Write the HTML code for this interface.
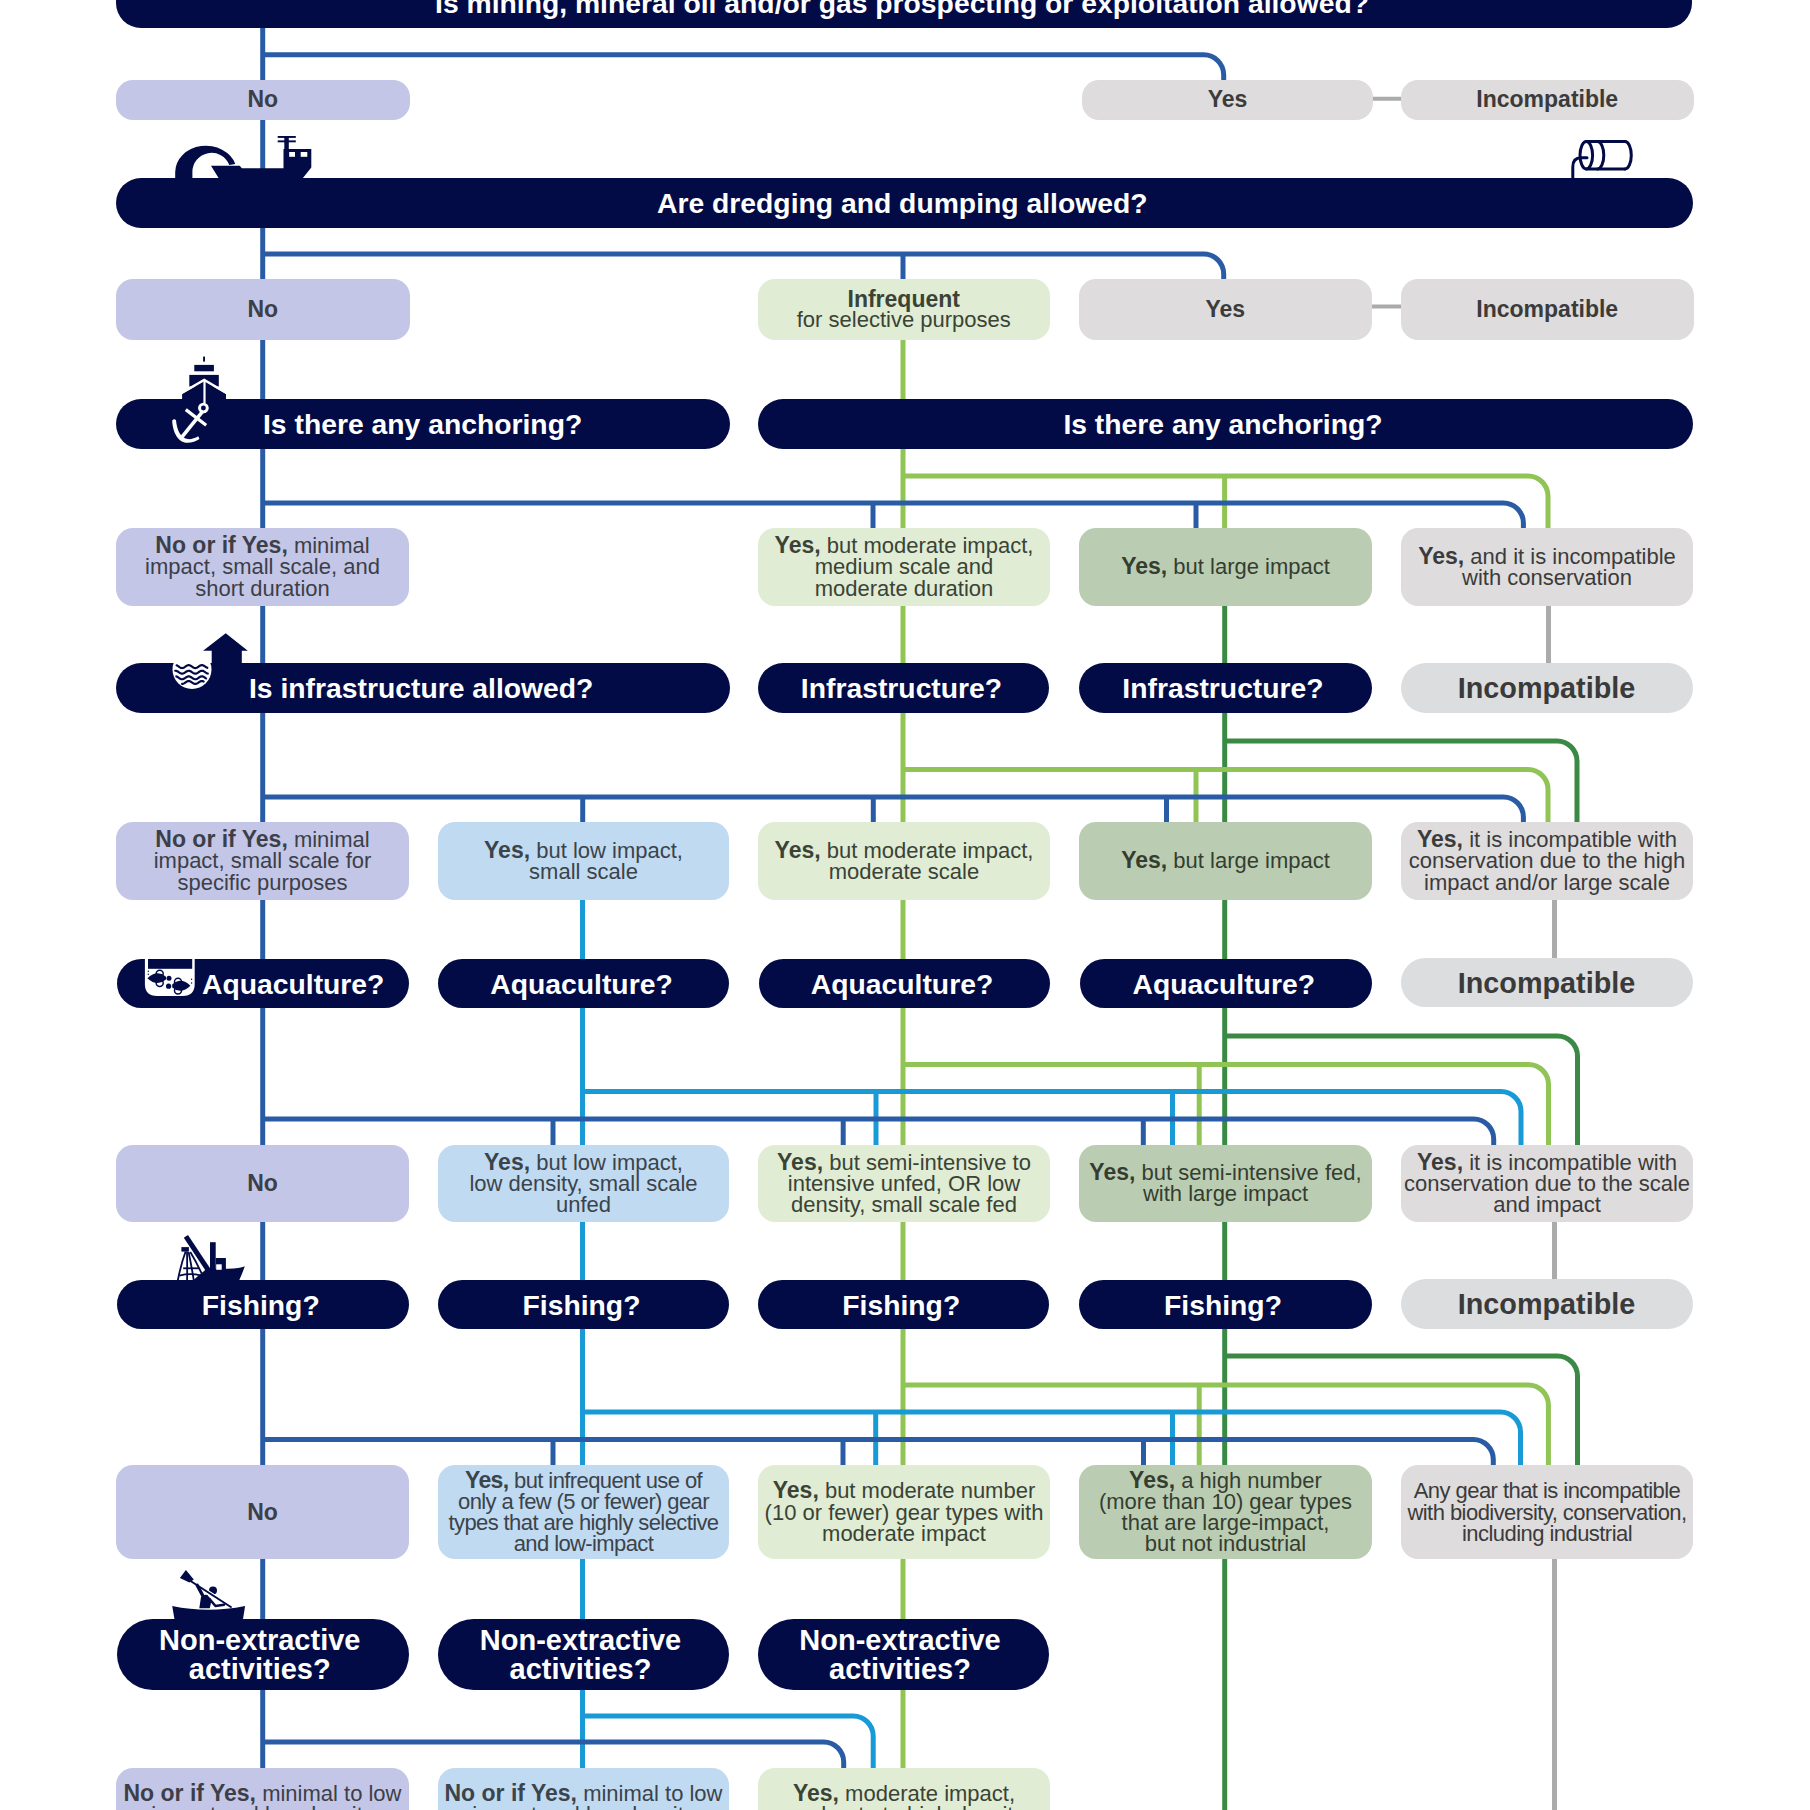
<!DOCTYPE html>
<html><head><meta charset="utf-8"><title>MPA decision tree</title>
<style>
html,body{margin:0;padding:0;background:#fff;}
body{width:1810px;height:1810px;position:relative;overflow:hidden;font-family:"Liberation Sans",sans-serif;}
.lines{position:absolute;left:0;top:0;z-index:0;}
.bx,.bar{position:absolute;box-sizing:border-box;display:flex;align-items:center;justify-content:center;text-align:center;z-index:1;}
.bx{border-radius:17px;font-size:22px;line-height:21.2px;}
.bx b{font-size:23px;}
.bar{border-radius:25px;font-size:28.3px;font-weight:bold;line-height:32px;padding-top:0.5px;padding-right:4px;}
.bx.top{align-items:flex-start;padding-top:15.5px;}
.icons{position:absolute;left:0;top:0;z-index:2;}
</style></head>
<body>
<svg class="lines" width="1810" height="1810" viewBox="0 0 1810 1810" fill="none">
<path d="M1548.5,600 V668" stroke="#ababab" stroke-width="5"/>
<path d="M1554.5,895 V963" stroke="#ababab" stroke-width="5"/>
<path d="M1554.5,1217 V1284" stroke="#ababab" stroke-width="5"/>
<path d="M1554.5,1555 V1815" stroke="#ababab" stroke-width="5"/>
<path d="M1370,98.8 H1404" stroke="#ababab" stroke-width="4"/>
<path d="M1368,306.5 H1404" stroke="#ababab" stroke-width="4"/>
<path d="M1224.7,600 V1815" stroke="#3a8a45" stroke-width="5"/>
<path d="M1224.7,741 H1557 A20,20 0 0 1 1577,761 V826" stroke="#3a8a45" stroke-width="5"/>
<path d="M1224.7,1036 H1557.5 A20,20 0 0 1 1577.5,1056 V1148" stroke="#3a8a45" stroke-width="5"/>
<path d="M1224.7,1356 H1557.5 A20,20 0 0 1 1577.5,1376 V1469" stroke="#3a8a45" stroke-width="5"/>
<path d="M903,335 V1815" stroke="#90c454" stroke-width="5"/>
<path d="M903,476 H1528 A20,20 0 0 1 1548,496 V532" stroke="#90c454" stroke-width="5"/>
<path d="M1224.6,476 V532" stroke="#90c454" stroke-width="5"/>
<path d="M903,769.5 H1528 A20,20 0 0 1 1548,789.5 V826" stroke="#90c454" stroke-width="5"/>
<path d="M1196,769.5 V826" stroke="#90c454" stroke-width="5"/>
<path d="M903,1064.5 H1528.5 A20,20 0 0 1 1548.5,1084.5 V1148" stroke="#90c454" stroke-width="5"/>
<path d="M1199.2,1064.5 V1148" stroke="#90c454" stroke-width="5"/>
<path d="M903,1385 H1528.4 A20,20 0 0 1 1548.4,1405 V1469" stroke="#90c454" stroke-width="5"/>
<path d="M1199.2,1385 V1469" stroke="#90c454" stroke-width="5"/>
<path d="M582.5,895 V1772" stroke="#189ad7" stroke-width="5"/>
<path d="M582.5,1091.5 H1501 A20,20 0 0 1 1521,1111.5 V1148" stroke="#189ad7" stroke-width="5"/>
<path d="M876,1091.5 V1148" stroke="#189ad7" stroke-width="5"/>
<path d="M1172.5,1091.5 V1148" stroke="#189ad7" stroke-width="5"/>
<path d="M582.5,1412 H1500.5 A20,20 0 0 1 1520.5,1432 V1469" stroke="#189ad7" stroke-width="5"/>
<path d="M875.7,1412 V1469" stroke="#189ad7" stroke-width="5"/>
<path d="M1172.5,1412 V1469" stroke="#189ad7" stroke-width="5"/>
<path d="M582.5,1716 H853.2 A20,20 0 0 1 873.2,1736 V1772" stroke="#189ad7" stroke-width="5"/>
<path d="M262.7,20 V1772" stroke="#2a5ca6" stroke-width="5"/>
<path d="M262.7,54.8 H1203.7 A20,20 0 0 1 1223.7,74.8 V84" stroke="#2a5ca6" stroke-width="5"/>
<path d="M262.7,254 H1203.7 A20,20 0 0 1 1223.7,274 V283" stroke="#2a5ca6" stroke-width="5"/>
<path d="M903,254 V283" stroke="#2a5ca6" stroke-width="5"/>
<path d="M262.7,503 H1503.4 A20,20 0 0 1 1523.4,523 V532" stroke="#2a5ca6" stroke-width="5"/>
<path d="M873,503 V532" stroke="#2a5ca6" stroke-width="5"/>
<path d="M1196,503 V532" stroke="#2a5ca6" stroke-width="5"/>
<path d="M262.7,797 H1503.4 A20,20 0 0 1 1523.4,817 V826" stroke="#2a5ca6" stroke-width="5"/>
<path d="M582.7,797 V826" stroke="#2a5ca6" stroke-width="5"/>
<path d="M873.3,797 V826" stroke="#2a5ca6" stroke-width="5"/>
<path d="M1166.5,797 V826" stroke="#2a5ca6" stroke-width="5"/>
<path d="M262.7,1119 H1473.7 A20,20 0 0 1 1493.7,1139 V1148" stroke="#2a5ca6" stroke-width="5"/>
<path d="M553,1119 V1148" stroke="#2a5ca6" stroke-width="5"/>
<path d="M843.2,1119 V1148" stroke="#2a5ca6" stroke-width="5"/>
<path d="M1143.3,1119 V1148" stroke="#2a5ca6" stroke-width="5"/>
<path d="M262.7,1439.5 H1473.3 A20,20 0 0 1 1493.3,1459.5 V1469" stroke="#2a5ca6" stroke-width="5"/>
<path d="M553,1439.5 V1469" stroke="#2a5ca6" stroke-width="5"/>
<path d="M843,1439.5 V1469" stroke="#2a5ca6" stroke-width="5"/>
<path d="M1143.5,1439.5 V1469" stroke="#2a5ca6" stroke-width="5"/>
<path d="M262.7,1742 H823.7 A20,20 0 0 1 843.7,1762 V1772" stroke="#2a5ca6" stroke-width="5"/>
</svg>
<div class="bar" style="left:116px;top:-23px;width:1576px;height:51px;background:#020b45;color:#fff;"><div>Is mining, mineral oil and/or gas prospecting or exploitation allowed?</div></div>
<div class="bar" style="left:116px;top:178px;width:1576.5px;height:50px;background:#020b45;color:#fff;"><div>Are dredging and dumping allowed?</div></div>
<div class="bar" style="left:116px;top:399px;width:614px;height:50px;background:#020b45;color:#fff;justify-content:flex-start;padding-left:147px;"><div><span style="margin-left:0px">Is there any anchoring?</span></div></div>
<div class="bar" style="left:757.5px;top:399px;width:935.0px;height:50px;background:#020b45;color:#fff;"><div>Is there any anchoring?</div></div>
<div class="bar" style="left:116px;top:663.4px;width:614px;height:49.60000000000002px;background:#020b45;color:#fff;justify-content:flex-start;padding-left:133px;"><div>Is infrastructure allowed?</div></div>
<div class="bar" style="left:758px;top:663.4px;width:291px;height:49.60000000000002px;background:#020b45;color:#fff;"><div>Infrastructure?</div></div>
<div class="bar" style="left:1078.5px;top:663.4px;width:293.0px;height:49.60000000000002px;background:#020b45;color:#fff;"><div>Infrastructure?</div></div>
<div class="bar" style="left:1401px;top:663.4px;width:292px;height:49.60000000000002px;background:#dcdddf;color:#3a3a3a;font-size:28.8px;padding-right:1px;"><div>Incompatible</div></div>
<div class="bar" style="left:117px;top:958.5px;width:291.5px;height:49.5px;background:#020b45;color:#fff;justify-content:flex-start;padding-left:85px;"><div>Aquaculture?</div></div>
<div class="bar" style="left:438px;top:958.5px;width:291px;height:49.5px;background:#020b45;color:#fff;"><div>Aquaculture?</div></div>
<div class="bar" style="left:758.5px;top:958.5px;width:291.0px;height:49.5px;background:#020b45;color:#fff;"><div>Aquaculture?</div></div>
<div class="bar" style="left:1080px;top:958.5px;width:291.5px;height:49.5px;background:#020b45;color:#fff;"><div>Aquaculture?</div></div>
<div class="bar" style="left:1401px;top:957.5px;width:292px;height:49.5px;background:#dcdddf;color:#3a3a3a;font-size:28.8px;padding-right:1px;"><div>Incompatible</div></div>
<div class="bar" style="left:117px;top:1279.5px;width:291.5px;height:49.5px;background:#020b45;color:#fff;"><div>Fishing?</div></div>
<div class="bar" style="left:438px;top:1279.5px;width:291px;height:49.5px;background:#020b45;color:#fff;"><div>Fishing?</div></div>
<div class="bar" style="left:758px;top:1279.5px;width:290.5px;height:49.5px;background:#020b45;color:#fff;"><div>Fishing?</div></div>
<div class="bar" style="left:1078.5px;top:1279.5px;width:293.0px;height:49.5px;background:#020b45;color:#fff;"><div>Fishing?</div></div>
<div class="bar" style="left:1401px;top:1279px;width:292px;height:49.5px;background:#dcdddf;color:#3a3a3a;font-size:28.8px;padding-right:1px;"><div>Incompatible</div></div>
<div class="bar" style="left:117px;top:1619.3px;width:291.5px;height:71.20000000000005px;background:#020b45;color:#fff;line-height:29.4px;border-radius:36px;font-size:29px;padding-right:6px;"><div>Non-extractive<br>activities?</div></div>
<div class="bar" style="left:438px;top:1619.3px;width:291px;height:71.20000000000005px;background:#020b45;color:#fff;line-height:29.4px;border-radius:36px;font-size:29px;padding-right:6px;"><div>Non-extractive<br>activities?</div></div>
<div class="bar" style="left:757.5px;top:1619.3px;width:291.0px;height:71.20000000000005px;background:#020b45;color:#fff;line-height:29.4px;border-radius:36px;font-size:29px;padding-right:6px;"><div>Non-extractive<br>activities?</div></div>
<div class="bx" style="left:116px;top:80px;width:293.5px;height:40px;background:#c3c6e6;color:#3c3f48;"><div><b>No</b></div></div>
<div class="bx" style="left:1082px;top:80px;width:291px;height:40px;background:#dedcdc;color:#3b3b3b;"><div><b>Yes</b></div></div>
<div class="bx" style="left:1400.5px;top:80px;width:293.5px;height:40px;background:#dedcdc;color:#3b3b3b;"><div><b>Incompatible</b></div></div>
<div class="bx" style="left:116px;top:279.3px;width:293.5px;height:60.89999999999998px;background:#c3c6e6;color:#3c3f48;"><div><b>No</b></div></div>
<div class="bx" style="left:757.5px;top:279.3px;width:292.5px;height:60.89999999999998px;background:#e0ecd4;color:#3a4336;line-height:20.3px;"><div><b>Infrequent</b><br>for selective purposes</div></div>
<div class="bx" style="left:1079px;top:279.3px;width:292.5px;height:60.89999999999998px;background:#dedcdc;color:#3b3b3b;"><div><b>Yes</b></div></div>
<div class="bx" style="left:1401px;top:279.3px;width:292.5px;height:60.89999999999998px;background:#dedcdc;color:#3b3b3b;"><div><b>Incompatible</b></div></div>
<div class="bx" style="left:116px;top:528px;width:293px;height:78px;background:#c3c6e6;color:#3c3f48;"><div><b>No or if Yes,</b> minimal<br>impact, small scale, and<br>short duration</div></div>
<div class="bx" style="left:758px;top:528px;width:292px;height:78px;background:#e0ecd4;color:#3a4336;"><div><b>Yes,</b> but moderate impact,<br>medium scale and<br>moderate duration</div></div>
<div class="bx" style="left:1079px;top:528px;width:293px;height:78px;background:#bacdb2;color:#353d31;"><div><b>Yes,</b> but large impact</div></div>
<div class="bx" style="left:1401px;top:528px;width:292px;height:78px;background:#dedcdc;color:#3b3b3b;"><div><b>Yes,</b> and it is incompatible<br>with conservation</div></div>
<div class="bx" style="left:116px;top:822px;width:293px;height:78px;background:#c3c6e6;color:#3c3f48;"><div><b>No or if Yes,</b> minimal<br>impact, small scale for<br>specific purposes</div></div>
<div class="bx" style="left:438px;top:822px;width:291px;height:78px;background:#c0daf1;color:#3b434b;"><div><b>Yes,</b> but low impact,<br>small scale</div></div>
<div class="bx" style="left:758px;top:822px;width:292px;height:78px;background:#e0ecd4;color:#3a4336;"><div><b>Yes,</b> but moderate impact,<br>moderate scale</div></div>
<div class="bx" style="left:1079px;top:822px;width:293px;height:78px;background:#bacdb2;color:#353d31;"><div><b>Yes,</b> but large impact</div></div>
<div class="bx" style="left:1401px;top:822px;width:292px;height:78px;background:#dedcdc;color:#3b3b3b;"><div><b>Yes,</b> it is incompatible with<br>conservation due to the high<br>impact and/or large scale</div></div>
<div class="bx" style="left:116px;top:1144.5px;width:293px;height:77.79999999999995px;background:#c3c6e6;color:#3c3f48;"><div><b>No</b></div></div>
<div class="bx" style="left:438px;top:1144.5px;width:291px;height:77.79999999999995px;background:#c0daf1;color:#3b434b;"><div><b>Yes,</b> but low impact,<br>low density, small scale<br>unfed</div></div>
<div class="bx" style="left:758px;top:1144.5px;width:292px;height:77.79999999999995px;background:#e0ecd4;color:#3a4336;"><div><b>Yes,</b> but semi-intensive to<br>intensive unfed, OR low<br>density, small scale fed</div></div>
<div class="bx" style="left:1079px;top:1144.5px;width:293px;height:77.79999999999995px;background:#bacdb2;color:#353d31;"><div><b>Yes,</b> but semi-intensive fed,<br>with large impact</div></div>
<div class="bx" style="left:1401px;top:1144.5px;width:292px;height:77.79999999999995px;background:#dedcdc;color:#3b3b3b;"><div><b>Yes,</b> it is incompatible with<br>conservation due to the scale<br>and impact</div></div>
<div class="bx" style="left:116px;top:1465px;width:293px;height:94.40000000000009px;background:#c3c6e6;color:#3c3f48;"><div><b>No</b></div></div>
<div class="bx" style="left:438px;top:1465px;width:291px;height:94.40000000000009px;background:#c0daf1;color:#3b434b;letter-spacing:-0.6px;line-height:20.9px;"><div><b>Yes,</b> but infrequent use of<br>only a few (5 or fewer) gear<br>types that are highly selective<br>and low-impact</div></div>
<div class="bx" style="left:758px;top:1465px;width:292px;height:94.40000000000009px;background:#e0ecd4;color:#3a4336;"><div><b>Yes,</b> but moderate number<br>(10 or fewer) gear types with<br>moderate impact</div></div>
<div class="bx" style="left:1079px;top:1465px;width:293px;height:94.40000000000009px;background:#bacdb2;color:#353d31;line-height:20.9px;"><div><b>Yes,</b> a high number<br>(more than 10) gear types<br>that are large-impact,<br>but not industrial</div></div>
<div class="bx" style="left:1401px;top:1465px;width:292px;height:94.40000000000009px;background:#dedcdc;color:#3b3b3b;letter-spacing:-0.55px;"><div>Any gear that is incompatible<br>with biodiversity, conservation,<br>including industrial</div></div>
<div class="bx top" style="left:116px;top:1767.5px;width:293px;height:80px;background:#c3c6e6;color:#3c3f48"><div><b>No or if Yes,</b> minimal to low<br>impact and low density</div></div>
<div class="bx top" style="left:438px;top:1767.5px;width:291px;height:80px;background:#c0daf1;color:#3b434b"><div><b>No or if Yes,</b> minimal to low<br>impact and low density</div></div>
<div class="bx top" style="left:758px;top:1767.5px;width:292px;height:80px;background:#e0ecd4;color:#3a4336"><div><b>Yes,</b> moderate impact,<br>moderate to high density</div></div>
<svg class="icons" width="1810" height="1810" viewBox="0 0 1810 1810">
<g fill="#020b45">
<!-- dredger -->
<path d="M175.2,178.5 V172 A30.8,26.2 0 0 1 235.3,163.9 L229.3,165 A19.1,19.1 0 0 0 192.4,172 V178.5 Z"/>
<path d="M211,165.7 H239.7 L241.9,168.3 H283.5 V148.9 H311.3 V167.4 L302.5,178.5 H218.9 Z"/>
<rect x="284.3" y="136.5" width="4.5" height="13"/>
<rect x="277.7" y="136" width="18.1" height="1.9"/>
<rect x="277.7" y="140.4" width="18.1" height="1.9"/>
<rect x="289.2" y="152" width="5.8" height="4.8" fill="#fff"/>
<rect x="300.7" y="152" width="6.6" height="4.8" fill="#fff"/>
</g>
<!-- barrel -->
<g fill="none" stroke="#020b45" stroke-width="3" stroke-linecap="round">
<path d="M1586.3,141.5 H1625 M1586.3,168.9 H1625"/>
<ellipse cx="1586.3" cy="155.2" rx="6.3" ry="13.7"/>
<path d="M1597.5,141.5 A6.3,13.7 0 0 1 1597.5,168.9"/>
<path d="M1625,141.5 A6.3,13.7 0 0 1 1625,168.9"/>
<path d="M1572.8,179 V167 Q1572.8,157.8 1581,157.8 H1587"/>
</g>
<!-- ship + anchor -->
<g fill="#020b45">
<rect x="203.1" y="356.6" width="1.9" height="5"/>
<rect x="194.3" y="364.9" width="19.6" height="6.4"/>
<rect x="189.3" y="374.9" width="29.5" height="11.6"/>
<path d="M182.1,394 L204.2,381.2 L226,394 V400 H182.1 Z"/>
</g>
<g fill="none" stroke="#fff">
<path d="M181,393.2 L204.2,380 L227,393.2" stroke-width="2.4"/>
<path d="M204.5,381 V403.5" stroke-width="2.2"/>
<circle cx="203.4" cy="408" r="3.9" stroke-width="2.9"/>
<path d="M202.3,411.8 L180.2,439.2" stroke-width="3.6"/>
<path d="M185.8,409.6 L206.2,425.2" stroke-width="3.3"/>
<path d="M172.2,420.4 C172.6,432 178,442.6 187.5,442.7 C192,442.7 196,441.2 199.5,438.9 L198.2,436.3 C195,438.3 191.5,439.3 188,439.1 C181,438.6 176.8,430 176,420.2 Q174.1,418.4 172.2,420.4 Z" fill="#fff" stroke="none"/>
</g>
<!-- infrastructure -->
<circle cx="192" cy="669.5" r="19.5" fill="#fff"/>
<path d="M225.7,633.3 L247.8,650.7 H241.8 V664 H211.7 V650.7 H203.1 Z" fill="#020b45"/>
<g fill="none" stroke="#020b45" stroke-width="2.2" stroke-linecap="round" stroke-linejoin="round">
<path d="M176.60,665.34 L177.10,665.55 L177.59,665.81 L178.09,666.12 L178.58,666.45 L179.08,666.79 L179.57,667.12 L180.07,667.42 L180.56,667.68 L181.06,667.87 L181.55,668.00 L182.05,668.05 L182.54,668.02 L183.04,667.91 L183.53,667.73 L184.03,667.48 L184.52,667.19 L185.02,666.86 L185.51,666.52 L186.01,666.19 L186.50,665.87 L187.00,665.60 L187.49,665.38 L187.99,665.23 L188.48,665.16 L188.98,665.16 L189.47,665.25 L189.97,665.41 L190.46,665.63 L190.96,665.91 L191.45,666.23 L191.95,666.57 L192.45,666.90 L192.94,667.23 L193.44,667.52 L193.93,667.75 L194.43,667.93 L194.92,668.03 L195.42,668.05 L195.91,667.99 L196.41,667.85 L196.90,667.65 L197.40,667.39 L197.89,667.08 L198.39,666.75 L198.88,666.41 L199.38,666.08 L199.87,665.77 L200.37,665.52 L200.86,665.32 L201.36,665.20 L201.85,665.15 L202.35,665.18 L202.84,665.29 L203.34,665.48 L203.83,665.72 L204.33,666.02 L204.82,666.34 L205.32,666.68 L205.81,667.02 L206.31,667.33 L206.80,667.60 L207.30,667.82"/>
<path d="M175.20,670.76 L175.69,670.76 L176.19,670.83 L176.68,670.97 L177.18,671.19 L177.67,671.46 L178.16,671.77 L178.66,672.10 L179.15,672.44 L179.65,672.77 L180.14,673.06 L180.63,673.31 L181.13,673.50 L181.62,673.61 L182.12,673.65 L182.61,673.61 L183.10,673.49 L183.60,673.30 L184.09,673.05 L184.58,672.75 L185.08,672.42 L185.57,672.08 L186.07,671.75 L186.56,671.44 L187.05,671.17 L187.55,670.96 L188.04,670.82 L188.54,670.75 L189.03,670.77 L189.52,670.86 L190.02,671.03 L190.51,671.26 L191.01,671.54 L191.50,671.86 L191.99,672.20 L192.49,672.53 L192.98,672.85 L193.48,673.14 L193.97,673.37 L194.46,673.54 L194.96,673.63 L195.45,673.65 L195.95,673.58 L196.44,673.44 L196.93,673.23 L197.43,672.97 L197.92,672.66 L198.42,672.33 L198.91,671.99 L199.40,671.66 L199.90,671.36 L200.39,671.11 L200.88,670.92 L201.38,670.79 L201.87,670.75 L202.37,670.79 L202.86,670.90 L203.35,671.08 L203.85,671.33 L204.34,671.62 L204.84,671.95 L205.33,672.29 L205.82,672.62 L206.32,672.94 L206.81,673.21 L207.31,673.42 L207.80,673.57"/>
<path d="M176.30,676.45 L176.80,676.62 L177.29,676.85 L177.79,677.13 L178.29,677.45 L178.78,677.79 L179.28,678.13 L179.78,678.45 L180.27,678.74 L180.77,678.97 L181.27,679.14 L181.76,679.23 L182.26,679.25 L182.76,679.18 L183.25,679.04 L183.75,678.83 L184.25,678.56 L184.74,678.25 L185.24,677.91 L185.74,677.57 L186.23,677.24 L186.73,676.94 L187.23,676.69 L187.72,676.50 L188.22,676.39 L188.72,676.35 L189.21,676.39 L189.71,676.51 L190.21,676.71 L190.70,676.96 L191.20,677.26 L191.70,677.59 L192.19,677.93 L192.69,678.27 L193.19,678.58 L193.68,678.84 L194.18,679.05 L194.68,679.19 L195.17,679.25 L195.67,679.23 L196.17,679.13 L196.66,678.96 L197.16,678.72 L197.66,678.43 L198.15,678.11 L198.65,677.77 L199.15,677.43 L199.64,677.11 L200.14,676.83 L200.64,676.60 L201.13,676.45 L201.63,676.36 L202.13,676.36 L202.62,676.44 L203.12,676.59 L203.62,676.81 L204.11,677.08 L204.61,677.40 L205.11,677.74 L205.60,678.08 L206.10,678.40"/>
<path d="M182.10,683.95 L182.59,683.91 L183.08,683.80 L183.57,683.61 L184.05,683.37 L184.54,683.08 L185.03,682.75 L185.52,682.42 L186.01,682.09 L186.50,681.78 L186.99,681.51 L187.47,681.29 L187.96,681.14 L188.45,681.06 L188.94,681.06 L189.43,681.14 L189.92,681.29 L190.41,681.50 L190.90,681.77 L191.38,682.08 L191.87,682.41 L192.36,682.75 L192.85,683.07 L193.34,683.36 L193.83,683.61 L194.32,683.79 L194.80,683.91 L195.29,683.95 L195.78,683.91 L196.27,683.80 L196.76,683.61 L197.25,683.37 L197.74,683.08 L198.22,682.76 L198.71,682.42 L199.20,682.09 L199.69,681.78 L200.18,681.51 L200.67,681.29 L201.16,681.14 L201.65,681.06 L202.13,681.06 L202.62,681.13 L203.11,681.28 L203.60,681.50"/>
</g>
<!-- aquaculture -->
<path d="M144.9,957.5 V984 Q144.9,996 157,996 H182.7 Q194.7,996 194.7,984 V957.5 Z" fill="#fff"/>
<rect x="148" y="959" width="44.2" height="9.8" fill="#020b45"/>
<g fill="none" stroke="#020b45" stroke-width="1.5">
<circle cx="159.7" cy="973.8" r="3.5"/><circle cx="159.7" cy="982.9" r="3.5"/>
<circle cx="178" cy="981.7" r="3.5"/><circle cx="178" cy="990.4" r="3.5"/>
</g>
<g fill="#020b45">
<path d="M147.4,978.2 Q157,969.2 166,976.8 V979.6 Q157,987.2 147.4,978.2 Z"/>
<circle cx="169" cy="978.2" r="2.5"/>
<path d="M172.2,984.6 Q181,976.5 190.4,985.8 Q181,995 172.2,987.4 Z"/>
<circle cx="168.6" cy="986.2" r="2.6"/>
<circle cx="148.3" cy="971.2" r="0.7"/><circle cx="148.3" cy="974.3" r="0.7"/>
<circle cx="191.6" cy="979.3" r="0.7"/><circle cx="191.6" cy="983" r="0.7"/>
</g>
<!-- fishing boat -->
<g fill="#020b45">
<path d="M185.9,1236.3 L209.8,1272.5" stroke="#020b45" stroke-width="5"/>
<rect x="181.4" y="1247.1" width="7.5" height="4.5"/>
<rect x="210" y="1242.2" width="5.7" height="28"/>
<rect x="215.7" y="1258" width="10.2" height="12"/>
<path d="M207,1268.8 H228 Q240,1268.5 244.8,1266.2 Q242.5,1273 239.1,1280.5 H193 Q200,1274 207,1268.8 Z"/>
<rect x="216.2" y="1264.3" width="5.5" height="5.5" fill="#fff"/>
</g>
<g fill="none" stroke="#020b45" stroke-width="1.8">
<path d="M185.6,1251.5 Q181,1264 177.8,1280.5"/>
<path d="M187,1251.5 Q187.3,1266 187.1,1280.5"/>
<path d="M188.6,1252 Q191.5,1266 193.8,1280.5"/>
<path d="M190.3,1252 Q197,1263 202.8,1276"/>
<path d="M183.2,1268.3 H199"/>
<path d="M179.4,1275.6 Q190,1273 200.5,1275.3"/>
</g>
<!-- kayak -->
<g fill="#020b45">
<path d="M172.2,1606 Q208.3,1613.5 245.1,1606 L242.8,1620.5 H174.7 Z"/>
<path d="M179.9,1577.9 L185.9,1570 L193.8,1579.4 L189.4,1582.4 Z"/>
<circle cx="213" cy="1590.6" r="4"/>
<path d="M199.3,1608.3 L201,1597 Q204,1594 207.5,1595 L211.5,1600.5 L209.8,1608.3 Z"/>
</g>
<g fill="none" stroke="#020b45">
<path d="M202,1588.5 L223,1602" stroke="#fff" stroke-width="4.2"/>
<path d="M189,1580 L231.6,1607.5" stroke-width="2"/>
<path d="M203.5,1597 L197.2,1585.3" stroke-width="3.4" stroke-linecap="round"/>
<path d="M209.5,1599 L215.5,1606 L224,1604.8" stroke-width="2.6" stroke-linecap="round" stroke-linejoin="round"/>
</g>
</svg>

</body></html>
